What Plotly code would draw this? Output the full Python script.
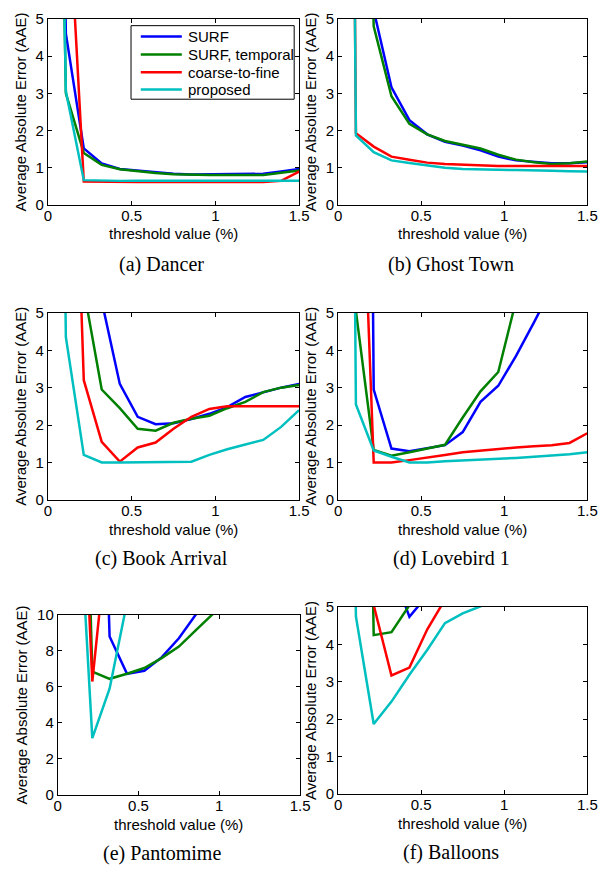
import plotly.graph_objects as go

W, H = 610, 871

# threshold values (%) at which errors were measured
thresholds = [0.0, 0.107, 0.214, 0.321, 0.429, 0.536, 0.643, 0.750,
              0.857, 0.964, 1.071, 1.179, 1.286, 1.393, 1.500]

methods = ["SURF", "SURF, temporal", "coarse-to-fine", "proposed"]
colors = ["#0000FF", "#008000", "#FF0000", "#00BFBF"]

# (a) Dancer
dancer_surf = [30, 4.6, 1.52, 1.12, 0.97, 0.92, 0.87, 0.84, 0.82, 0.82, 0.82, 0.82, 0.84, 0.90, 0.97]
dancer_surf_t = [30, 3.0, 1.40, 1.08, 0.96, 0.91, 0.86, 0.83, 0.81, 0.81, 0.81, 0.81, 0.81, 0.87, 0.93]
dancer_c2f = [30, 9.5, 0.63, 0.62, 0.62, 0.62, 0.62, 0.62, 0.62, 0.62, 0.62, 0.62, 0.62, 0.65, 0.90]
dancer_prop = [30, 3.05, 0.67, 0.65, 0.65, 0.65, 0.65, 0.65, 0.65, 0.65, 0.65, 0.65, 0.65, 0.65, 0.65]

# (b) Ghost Town
ghost_surf = [40, 25, 5.23, 3.16, 2.28, 1.90, 1.70, 1.60, 1.47, 1.30, 1.20, 1.15, 1.12, 1.12, 1.15]
ghost_surf_t = [40, 25, 4.80, 2.92, 2.18, 1.90, 1.72, 1.62, 1.52, 1.35, 1.22, 1.15, 1.10, 1.12, 1.17]
ghost_c2f = [60, 1.93, 1.57, 1.30, 1.22, 1.14, 1.10, 1.08, 1.06, 1.05, 1.05, 1.05, 1.05, 1.05, 1.05]
ghost_prop = [60, 1.87, 1.42, 1.20, 1.13, 1.06, 1.00, 0.97, 0.97, 0.95, 0.94, 0.94, 0.92, 0.91, 0.90]

# (c) Book Arrival
book_surf = [40, 30, 20, 5.32, 3.10, 2.22, 2.02, 2.05, 2.16, 2.30, 2.48, 2.75, 2.88, 3.00, 3.10]
book_surf_t = [40, 30, 5.63, 2.95, 2.45, 1.90, 1.85, 2.06, 2.17, 2.25, 2.45, 2.62, 2.88, 3.00, 3.07]
book_c2f = [40, 17.4, 3.20, 1.55, 1.02, 1.40, 1.53, 1.90, 2.22, 2.43, 2.50, 2.50, 2.50, 2.50, 2.50]
book_prop = [40, 4.35, 1.20, 1.00, 1.00, 1.00, 1.00, 1.00, 1.02, 1.20, 1.35, 1.48, 1.60, 1.95, 2.40]

# (d) Lovebird 1
love_surf = [60, 60, 2.95, 1.37, 1.30, 1.37, 1.46, 1.81, 2.62, 3.05, 3.85, 4.75, 5.60, 6.50, 7.50]
love_surf_t = [60, 5.05, 1.33, 1.18, 1.27, 1.36, 1.47, 2.20, 2.90, 3.42, 5.19, 7.0, 9.0, 11.0, 13.0]
love_c2f = [60, 13.7, 1.00, 1.00, 1.06, 1.12, 1.20, 1.27, 1.32, 1.37, 1.40, 1.43, 1.46, 1.52, 1.78]
love_prop = [60, 2.55, 1.32, 1.15, 1.00, 1.00, 1.03, 1.05, 1.08, 1.10, 1.12, 1.15, 1.18, 1.22, 1.27]

# (e) Pantomime
panto_surf = [60, 60, 40, 8.8, 6.73, 6.90, 7.64, 8.70, 10.05, 11.5, 13.0]
panto_surf_t = [60, 40, 6.85, 6.45, 6.73, 7.05, 7.60, 8.24, 9.17, 10.1, 11.0]
panto_c2f = [60, 28, 6.30, 16.4, 25.0]
panto_prop = [60, 20.3, 3.15, 5.90, 10.7, 15.0]

# (f) Balloons
ball_surf = [40, 30, 20, 6.04, 4.74, 5.31, 6.5]
ball_surf_t = [40, 30, 4.25, 4.33, 5.05, 6.0]
ball_c2f = [40, 30, 5.05, 3.17, 3.38, 4.40, 5.20, 6.0]
ball_prop = [40, 4.75, 1.87, 2.47, 3.19, 3.85, 4.57, 4.83, 5.02, 5.30]

captions = ["(a) Dancer", "(b) Ghost Town", "(c) Book Arrival",
            "(d) Lovebird 1", "(e) Pantomime", "(f) Balloons"]
x_title = "threshold value (%)"
y_title = "Average Absolute Error (AAE)"
panel_series = [
    [dancer_surf, dancer_surf_t, dancer_c2f, dancer_prop],
    [ghost_surf, ghost_surf_t, ghost_c2f, ghost_prop],
    [book_surf, book_surf_t, book_c2f, book_prop],
    [love_surf, love_surf_t, love_c2f, love_prop],
    [panto_surf, panto_surf_t, panto_c2f, panto_prop],
    [ball_surf, ball_surf_t, ball_c2f, ball_prop],
]
y_max = [5, 5, 5, 5, 10, 5]
y_dtick = [1, 1, 1, 1, 2, 1]

# panel boxes in pixels: (left, right, top, bottom)
boxes = [(45, 302, 10, 200), (342, 597, 10, 200),
         (45, 302, 310, 500.5), (342, 597, 310, 500.5),
         (55, 303, 618, 801.5), (342, 597, 610, 800.5)]
caption_pos = [(161.5, 261), (457.5, 261), (161.5, 560), (457.5, 560),
               (161.5, 861), (457.5, 860)]
xtitle_y = [229, 229, 531, 531, 832, 831]

SANS = "Liberation Sans, Arial, Helvetica, sans-serif"
SERIF = "Liberation Serif, Times New Roman, serif"
FS = 15


def px(x):
    return x / W


def py(y):
    return 1 - y / H


fig = go.Figure()
annotations = []
shapes = []
layout = dict(
    width=W, height=H, margin=dict(l=0, r=0, t=0, b=0),
    paper_bgcolor="white", plot_bgcolor="white",
    font=dict(family=SANS, size=FS, color="black"),
    showlegend=False,
)

for i, series in enumerate(panel_series):
    n = i + 1
    xa = "x" if n == 1 else f"x{n}"
    ya = "y" if n == 1 else f"y{n}"
    for j, ys in enumerate(series):
        fig.add_trace(go.Scatter(
            x=thresholds[:len(ys)], y=ys, mode="lines", name=methods[j],
            line=dict(color=colors[j], width=2.5),
            xaxis=xa, yaxis=ya, hoverinfo="skip",
        ))
    l, r, t, b = boxes[i]
    axis_common = dict(showline=True, linecolor="black", linewidth=1,
                       mirror="ticks", ticks="inside", ticklen=4,
                       tickcolor="black", showgrid=False, zeroline=False,
                       tickfont=dict(family=SANS, size=FS, color="black"))
    layout[f"xaxis{n}"] = dict(
        axis_common, domain=[px(l), px(r)], anchor=ya, range=[0, 1.5],
        tickvals=[0, 0.5, 1, 1.5], ticktext=["0", "0.5", "1", "1.5"],
        ticklabelstandoff=-3)
    layout[f"yaxis{n}"] = dict(
        axis_common, domain=[py(b), py(t)], anchor=xa,
        range=[0, y_max[i]], dtick=y_dtick[i],
        title=dict(text=y_title, standoff=5,
                   font=dict(family=SANS, size=FS, color="black")))
    annotations.append(dict(
        text=x_title, x=px((l + r) / 2), y=py(xtitle_y[i]),
        xref="paper", yref="paper", xanchor="center", yanchor="middle",
        showarrow=False, font=dict(family=SANS, size=FS, color="black")))
    cx, cy = caption_pos[i]
    annotations.append(dict(
        text=captions[i], x=px(cx), y=py(cy), xref="paper", yref="paper",
        xanchor="center", yanchor="middle", showarrow=False,
        font=dict(family=SERIF, size=20, color="black")))

# legend box inside panel (a)
shapes.append(dict(type="rect", xref="paper", yref="paper",
                   x0=px(130), x1=px(297), y0=py(92), y1=py(17),
                   line=dict(color="black", width=1), fillcolor="white",
                   layer="above"))
legend_rows = [28, 46.5, 64.5, 82]
for j, name in enumerate(methods):
    yy = legend_rows[j]
    shapes.append(dict(type="line", xref="paper", yref="paper",
                       x0=px(140), x1=px(182), y0=py(yy), y1=py(yy),
                       line=dict(color=colors[j], width=2.5), layer="above"))
    annotations.append(dict(
        text=name, x=px(186), y=py(yy), xref="paper", yref="paper",
        xanchor="left", yanchor="middle", showarrow=False,
        font=dict(family=SANS, size=FS, color="black")))

layout["annotations"] = annotations
layout["shapes"] = shapes
layout["xaxis"] = layout.pop("xaxis1")
layout["yaxis"] = layout.pop("yaxis1")
fig.update_layout(**layout)
fig.write_html("out.html",
               config={"displayModeBar": False, "staticPlot": True},
               post_script="document.body.style.margin='0';"
                           "document.body.style.overflow='hidden';")
